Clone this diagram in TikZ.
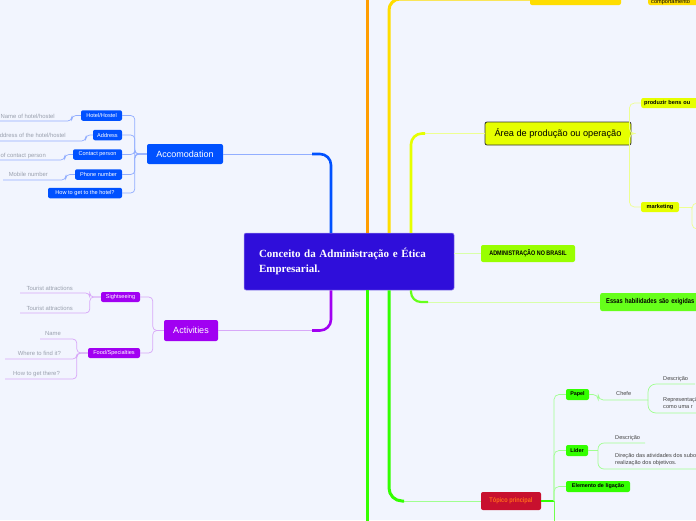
\documentclass[tikz,border=0pt]{standalone}
\usepackage{fontspec}
\setmainfont{Liberation Sans}
\newfontfamily\serifbf{Liberation Serif}
\newfontfamily\narrowfont[FakeStretch=0.82]{Liberation Sans}

\definecolor{bgc}{HTML}{F2F5FE}
\definecolor{mainc}{HTML}{2F0EDA}
\definecolor{accblue}{HTML}{0051FF}
\definecolor{acclight}{HTML}{92AEFF}
\definecolor{actpurple}{HTML}{A100F2}
\definecolor{actlight}{HTML}{D8A8F8}
\definecolor{orangebr}{HTML}{FF9D00}
\definecolor{yellowbr}{HTML}{FFDD00}
\definecolor{ygreen}{HTML}{E6FF00}
\definecolor{ylight}{HTML}{EEFF90}
\definecolor{limec}{HTML}{99FF00}
\definecolor{limelight}{HTML}{D8FFA8}
\definecolor{greenb}{HTML}{66FF1A}
\definecolor{greenc}{HTML}{33FF00}
\definecolor{greenlight}{HTML}{A0FF90}
\definecolor{crimson}{HTML}{C8102E}
\definecolor{topictext}{HTML}{FF6A1A}
\definecolor{leafgray}{HTML}{9AA0AE}
\definecolor{leafdark}{HTML}{444444}

\begin{document}
\begin{tikzpicture}[x=1pt,y=-1pt,
    box/.style={rounded corners=2pt, inner sep=0pt, align=center},
    sblue/.style={box, fill=accblue, text=white, font=\fontsize{5.6}{6}\selectfont, minimum height=10.5},
    spurple/.style={box, fill=actpurple, text=white, font=\fontsize{5.6}{6}\selectfont, minimum height=10},
    sgreen/.style={box, fill=greenc, text=black, font=\fontsize{5.4}{6}\selectfont\bfseries, minimum height=11},
    leafl/.style={inner sep=0pt, text=leafgray, font=\fontsize{5.9}{7}\selectfont},
    leafr/.style={inner sep=0pt, text=leafdark, font=\fontsize{5.6}{7}\selectfont, align=left},
    accline/.style={acclight, line width=0.7, rounded corners=4},
    actline/.style={actlight, line width=0.7, rounded corners=4},
    grline/.style={greenlight, line width=0.7, rounded corners=5},
    yline/.style={ylight, line width=0.7, rounded corners=5},
    trunk/.style={line width=2.6, rounded corners=11}]
  \useasboundingbox (0,0) rectangle (696,520);
  \clip (0,0) rectangle (696,520);
  \fill[bgc] (0,0) rectangle (696,520);

  % central topic
  \node[box, fill=mainc, draw=mainc!50!white, line width=0.5, text=white,
        minimum width=210, minimum height=57, text width=180, inner xsep=15, align=left,
        font=\serifbf\bfseries\fontsize{11}{15}\selectfont] (main) at (349,261.5)
        {Conceito da Administração e Ética\\Empresarial.};

  % left: accomodation
  \node[box, fill=accblue, text=white, minimum width=76, minimum height=20,
        font=\fontsize{9}{10}\selectfont] (accom) at (185,154) {Accomodation};
  \node[sblue, minimum width=41] (hotel) at (101.5,115.5) {Hotel/Hostel};
  \node[sblue, minimum width=29] (address) at (107.5,135) {Address};
  \node[sblue, minimum width=49] (contact) at (97.5,154.5) {Contact person};
  \node[sblue, minimum width=47] (phone) at (98.5,174.5) {Phone number};
  \node[sblue, minimum width=74] (howto) at (85,193) {How to get to the hotel?};
  \node[leafl, anchor=base east] (nhotel) at (55,118) {Name of hotel/hostel};
  \node[leafl, anchor=base east] (naddr) at (66,137) {Address of the hotel/hostel};
  \node[leafl, anchor=base east] (ncontact) at (46,157) {Name of contact person};
  \node[leafl, anchor=base east] (nphone) at (48,176) {Mobile number};
  \coordinate (ehotel) at (0,121);
  \coordinate (eaddr) at (0,141);
  \coordinate (econtact) at (0,160);
  \coordinate (ephone) at (3,180);

  \draw[acclight, line width=0.7] (accom.east) -- (312,154);
  \draw[trunk, accblue] (331,0 |- main.north) |- (312,154);
  \foreach \n in {hotel,address,contact,phone,howto}
    \draw[accline] (accom.west) -- ++(-12,0) |- (\n.east);
  \draw[accline] (hotel.west) -- ++(-9,0) |- (ehotel);
  \draw[accline] (address.west) -- ++(-7,0) |- (eaddr);
  \draw[accline] (contact.west) -- ++(-8,0) |- (econtact);
  \draw[accline] (phone.west) -- ++(-9,0) |- (ephone);

  % left: activities
  \node[box, fill=actpurple, text=white, minimum width=54, minimum height=21,
        font=\fontsize{9}{10}\selectfont] (activ) at (191,330.5) {Activities};
  \node[spurple, minimum width=39] (sight) at (120.5,297) {Sightseeing};
  \node[spurple, minimum width=52] (food) at (114,353) {Food/Specialties};
  \node[leafl, anchor=base east] (tour1) at (73,290) {Tourist attractions};
  \node[leafl, anchor=base east] (tour2) at (73,310) {Tourist attractions};
  \node[leafl, anchor=base east] (fname) at (61,335.5) {Name};
  \node[leafl, anchor=base east] (fwhere) at (61,355.5) {Where to find it?};
  \node[leafl, anchor=base east] (fhow) at (60,375) {How to get there?};
  \coordinate (etour1) at (20,293);
  \coordinate (etour2) at (20,313);
  \coordinate (ename) at (40,339);
  \coordinate (ewhere) at (5,359);
  \coordinate (ehow) at (5,379);

  \draw[actlight, line width=0.7] (activ.east) -- (312,330.5);
  \draw[trunk, actpurple] (331,0 |- main.south) |- (312,330.5);
  \draw[actline] (activ.west) -- ++(-11,0) |- (sight.east);
  \draw[actline] (activ.west) -- ++(-11,0) |- (food.east);
  \draw[actline] (sight.west) -- ++(-11,0) |- (etour1);
  \draw[actline] (sight.west) -- ++(-11,0) |- (etour2);
  \foreach \e in {ename,ewhere,ehow}
    \draw[actline] (food.west) -- ++(-11,0) |- (\e);

  % vertical trunks
  \draw[orangebr, line width=3] (367,0 |- main.north) -- (367,-2);
  \draw[greenc, line width=3] (367,0 |- main.south) -- (367,525);
  \coordinate (ytop) at (530,-1);
  \draw[trunk, yellowbr, line width=3] (389,0 |- main.north) |- (ytop);
  \node[box, fill=yellowbr, minimum width=91, minimum height=14] (ynode) at (575.5,-2) {};
  \node[box, fill=yellowbr, anchor=west, minimum width=60, minimum height=12] (comport) at (648,-1) {};
  \node[inner sep=0pt, anchor=base west, font=\fontsize{5.6}{6}\selectfont] (comptext) at (651,3.6) {comportamento};

  % area de producao
  \node[box, fill=ygreen, draw=black!80, line width=0.8, minimum width=146, minimum height=23,
        font=\fontsize{9.2}{10}\selectfont] (area) at (558,133.5) {Área de produção ou operação};
  \node[box, fill=ygreen, anchor=west, minimum height=10, text width=70, align=left, inner xsep=3,
        font=\fontsize{5.6}{6}\selectfont\bfseries] (produzir) at (641,103) {produzir bens ou};
  \node[box, fill=ygreen, minimum width=38, minimum height=10,
        font=\fontsize{5.6}{6}\selectfont\bfseries] (market) at (660,207) {marketing};
  \draw[ylight, line width=0.7] (area.west) -- (425,0 |- area.west);
  \draw[trunk, ygreen, line width=2.6] (411,0 |- main.north) |- (425,0 |- area.west);
  \draw[yline] (area.east) -- ++(-2,0) |- (produzir.west);
  \draw[yline] (area.east) -- ++(-2,0) |- (market.west);
  \coordinate (mbr) at (692,207);
  \draw[yline] (market.east) -- (mbr);
  \draw[yline] (mbr) |- (700,203);
  \draw[yline] (mbr) |- (700,229);

  % administracao no brasil
  \node[box, fill=limec, minimum width=94, minimum height=17,
        font=\narrowfont\bfseries\fontsize{6.6}{7}\selectfont] (admbr) at (528,253.5) {ADMINISTRAÇÃO NO BRASIL};
  \draw[limelight, line width=1] (main.east |- admbr.west) -- (admbr.west);

  % essas habilidades
  \node[box, fill=greenb, anchor=west, minimum height=18, text width=110, inner xsep=6, align=left,
        font=\narrowfont\bfseries\fontsize{7}{8}\selectfont] (essas) at (600,302) {Essas habilidades são exigidas};
  \draw[limelight, line width=1] (essas.west) -- (428,302);
  \draw[trunk, greenb, line width=2.2, rounded corners=10] (411,0 |- main.south) |- (428,302);

  % topico principal
  \node[box, fill=crimson, minimum width=60, minimum height=18, text=topictext,
        font=\narrowfont\bfseries\fontsize{6.8}{7}\selectfont] (topico) at (511,501) {Tópico principal};
  \draw[greenlight, line width=0.8] (topico.west) -- (404,501);
  \draw[trunk, greenc, line width=3, rounded corners=13] (389,0 |- main.south) |- (404,501);

  \node[sgreen, minimum width=23] (papel) at (577.5,394.5) {Papel};
  \node[sgreen, minimum width=22] (lider) at (577,450.5) {Líder};
  \node[sgreen, minimum width=64] (elemento) at (598,486.5) {Elemento de ligação};
  \coordinate (tbr) at (554,501);
  \coordinate (tend) at (554,525);
  \draw[greenc, line width=1.2] (topico.east) -- (tbr);
  \draw[grline] (tbr) |- (papel.west);
  \draw[grline] (tbr) |- (lider.west);
  \draw[grline] (tbr) |- (elemento.west);
  \draw[greenc!70!white, line width=1] (tbr) -- (tend);

  % papel / chefe
  \node[leafr, anchor=base west] (chefe) at (616,395.5) {Chefe};
  \coordinate (cbr) at (648,400);
  \draw[grline] (papel.east) -- ++(9,0) |- (cbr);
  \node[leafr, anchor=base west] (cdesc) at (663,380) {Descrição};
  \node[leafr, anchor=north west] (crep) at (663,397) {Representação\\como uma r};
  \draw[grline, rounded corners=8] (cbr) |- (695,384);
  \draw[grline, rounded corners=8] (cbr) |- (700,413);

  % lider
  \coordinate (lbr) at (598,450.5);
  \draw[grline] (lider.east) -- (lbr);
  \node[leafr, anchor=base west] (ldesc) at (615,439.5) {Descrição};
  \node[leafr, anchor=north west] (ldir) at (615,453.5) {Direção das atividades dos subordinados\\realização dos objetivos.};
  \draw[grline, rounded corners=6] (lbr) |- (645,443);
  \draw[grline, rounded corners=6] (lbr) |- (700,469);
\end{tikzpicture}
\end{document}
